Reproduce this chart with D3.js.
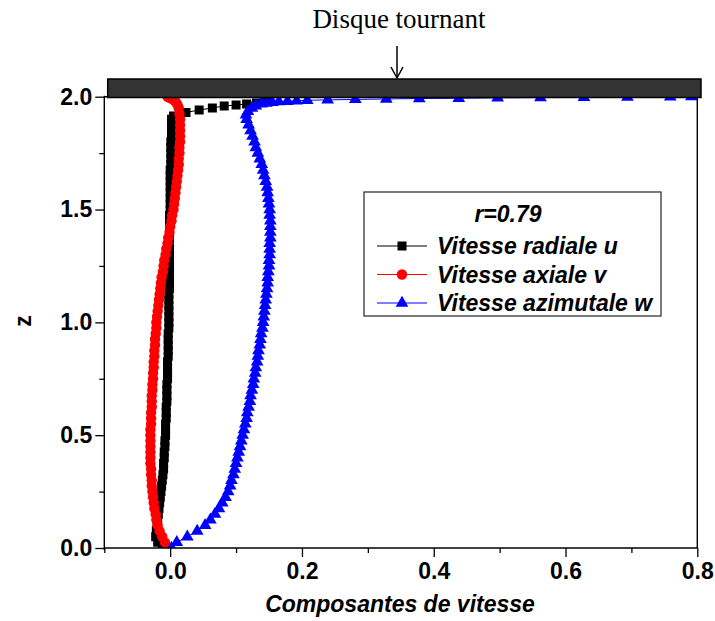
<!DOCTYPE html>
<html><head><meta charset="utf-8">
<script src="https://cdn.jsdelivr.net/npm/d3@7"></script>
<style>body{margin:0;background:#fff}svg{display:block}</style>
</head><body>
<svg id="c" width="715" height="621"></svg>
<script>
// ---- data ----
const zBody = [
  0,0.025,0.05,0.075,0.1,0.125,0.15,0.175,0.2,0.225,
  0.25,0.275,0.3,0.325,0.35,0.375,0.4,0.425,0.45,0.475,
  0.5,0.525,0.55,0.575,0.6,0.625,0.65,0.675,0.7,0.725,
  0.75,0.775,0.8,0.825,0.85,0.875,0.9,0.925,0.95,0.975,
  1.0,1.025,1.05,1.075,1.1,1.125,1.15,1.175,1.2,1.225,
  1.25,1.275,1.3,1.325,1.35,1.375,1.4,1.425,1.45,1.475,
  1.5,1.525,1.55,1.575,1.6,1.625,1.65,1.675,1.7,1.725,
  1.75,1.775,1.8,1.825,1.85,1.875,1.9];
const uBody = [
  -0.012,-0.019,-0.022,-0.021,-0.020,-0.019,-0.018,-0.017,-0.016,-0.015,
  -0.014,-0.013,-0.012,-0.011,-0.010,-0.010,-0.009,-0.009,-0.008,-0.008,
  -0.007,-0.007,-0.007,-0.006,-0.006,-0.006,-0.005,-0.005,-0.005,-0.005,
  -0.004,-0.004,-0.004,-0.004,-0.003,-0.003,-0.003,-0.003,-0.003,-0.002,
  -0.002,-0.002,-0.002,-0.002,-0.002,-0.002,-0.001,-0.001,-0.001,-0.001,
  -0.001,-0.001,-0.001,-0.001,-0.001,-0.001,-0.001,-0.001,-0.001,-0.001,
  0,0,0,0,0,0,0,0,0.001,0.001,
  0.001,0.001,0.001,0.002,0.002,0.002,0.002];
const vBody = [
  -0.002,-0.008,-0.012,-0.016,-0.019,-0.021,-0.022,-0.024,-0.025,-0.026,
  -0.027,-0.028,-0.028,-0.029,-0.029,-0.030,-0.030,-0.030,-0.030,-0.030,
  -0.030,-0.030,-0.029,-0.029,-0.029,-0.028,-0.028,-0.028,-0.027,-0.027,
  -0.026,-0.026,-0.025,-0.025,-0.024,-0.024,-0.023,-0.023,-0.022,-0.021,
  -0.021,-0.020,-0.019,-0.018,-0.017,-0.016,-0.015,-0.014,-0.013,-0.011,
  -0.010,-0.009,-0.007,-0.006,-0.004,-0.003,-0.001,0.000,0.002,0.003,
  0.005,0.006,0.007,0.008,0.009,0.010,0.011,0.012,0.013,0.013,
  0.014,0.014,0.015,0.015,0.015,0.015,0.015];
const wBody = [
  0.002,0.010,0.026,0.041,0.053,0.061,0.068,0.074,0.079,0.084,
  0.088,0.091,0.093,0.096,0.098,0.100,0.102,0.104,0.106,0.108,
  0.110,0.112,0.114,0.116,0.117,0.119,0.121,0.122,0.124,0.126,
  0.127,0.129,0.130,0.132,0.133,0.134,0.136,0.137,0.138,0.140,
  0.141,0.142,0.143,0.144,0.145,0.146,0.147,0.148,0.148,0.149,
  0.150,0.150,0.151,0.151,0.151,0.152,0.152,0.152,0.152,0.151,
  0.151,0.150,0.149,0.148,0.147,0.145,0.143,0.141,0.139,0.136,
  0.133,0.130,0.128,0.125,0.122,0.119,0.116];
// near the rotating disc (refined grid)
const zTopU = [1.915,1.93,1.941,1.95,1.959,1.963,1.968,1.972,1.977,1.981];
const uTop  = [0.005,0.024,0.044,0.064,0.082,0.100,0.116,0.131,0.143,0.151];
const zTopV = [1.925,1.95,1.965,1.975,1.982,1.988,1.993,1.997,2.0];
const vTop  = [0.014,0.013,0.011,0.009,0.007,0.004,0.001,-0.002,-0.004];
const zTopW = [1.92,1.935,1.95,1.96,1.968,1.972,1.975,1.978,1.98,1.982,1.984,1.986,1.988,1.99,1.992,1.993,1.995,1.996,1.997,1.998,1.999,2.0];
const wTop  = [0.115,0.118,0.124,0.130,0.138,0.146,0.155,0.165,0.178,0.192,0.208,0.239,0.281,0.328,0.378,0.438,0.497,0.562,0.628,0.694,0.759,0.791];

const xMajor = [0,0.2,0.4,0.6,0.8];
const xMinor = [-0.1,0.1,0.3,0.5,0.7];
const yMajor = [0,0.5,1.0,1.5,2.0];
const yMinor = [0.25,0.75,1.25,1.75];
const legendTitle = "r=0.79";
const seriesNames = ["Vitesse radiale u","Vitesse axiale v","Vitesse azimutale w"];
const seriesColors = ["#000000","#ff0000","#0000ff"];

// ---- chart ----
const svg = d3.select("#c");
const L=104.3, R=697.3, T=96.7, B=548;
const x = d3.scaleLinear().domain([-0.1,0.8]).range([L,R]);
const y = d3.scaleLinear().domain([0,2]).range([B,T]);
const SANS = "'Liberation Sans', Arial, Helvetica, sans-serif";

function build(zb, vb, zt, vt){
  const pts = zb.map((z,i)=>({x:vb[i], z}));
  zt.forEach((z,i)=>pts.push({x:vt[i], z}));
  return pts;
}
const series = [
  {pts: build(zBody,uBody,zTopU,uTop), sym: d3.symbolSquare, size: 81},
  {pts: build(zBody,vBody,zTopV,vTop), sym: d3.symbolCircle, size: 85},
  {pts: build(zBody,wBody,zTopW,wTop), sym: d3.symbolTriangle, size: 70}
];

svg.append("defs").append("clipPath").attr("id","clip")
  .append("rect").attr("x",L).attr("y",70).attr("width",R-L).attr("height",B-70);

const plot = svg.append("g").attr("clip-path","url(#clip)");
const line = d3.line().x(d=>x(d.x)).y(d=>y(d.z));
series.forEach((s,i)=>{
  plot.append("path").datum(s.pts).attr("d",line)
    .attr("fill","none").attr("stroke",seriesColors[i]).attr("stroke-width",1);
  plot.append("g").selectAll("path").data(s.pts).join("path")
    .attr("d",d3.symbol().type(s.sym).size(s.size))
    .attr("transform",d=>`translate(${x(d.x)},${y(d.z)})`)
    .attr("fill",seriesColors[i]);
});

// axes
svg.append("g").attr("transform",`translate(0,${B})`)
  .call(d3.axisBottom(x).tickValues(xMajor).tickSize(9).tickPadding(6).tickFormat(d3.format(".1f")));
svg.append("g").attr("transform",`translate(0,${B})`)
  .call(d3.axisBottom(x).tickValues(xMinor).tickSize(5).tickFormat(""));
svg.append("g").attr("transform",`translate(${L},0)`)
  .call(d3.axisLeft(y).tickValues(yMajor).tickSize(9).tickPadding(3).tickFormat(d3.format(".1f")));
svg.append("g").attr("transform",`translate(${L},0)`)
  .call(d3.axisLeft(y).tickValues(yMinor).tickSize(5).tickFormat(""));
svg.selectAll(".domain").remove();
svg.selectAll(".tick line").attr("stroke","#000").attr("stroke-width",1.3);
svg.selectAll(".tick text").attr("font-family",SANS).attr("font-weight","bold")
  .attr("font-size",23).attr("fill","#000");

// frame
const fr = svg.append("g").attr("stroke","#000").attr("stroke-width",1.4);
fr.append("line").attr("x1",L).attr("x2",L).attr("y1",T-1).attr("y2",B+2);
fr.append("line").attr("x1",L).attr("x2",R).attr("y1",B).attr("y2",B);
fr.append("line").attr("x1",R).attr("x2",R).attr("y1",T).attr("y2",B);
fr.append("line").attr("x1",L).attr("x2",R).attr("y1",T).attr("y2",T);

// rotating disc
svg.append("rect").attr("x",107.7).attr("y",79).attr("width",593.3).attr("height",18.5)
  .attr("fill","#333").attr("stroke","#000").attr("stroke-width",1.5);
svg.append("text").attr("x",399).attr("y",28).attr("text-anchor","middle")
  .attr("font-family","'Liberation Serif','Times New Roman',serif").attr("font-size",27)
  .text("Disque tournant");
svg.append("line").attr("x1",397).attr("x2",397).attr("y1",46).attr("y2",78)
  .attr("stroke","#000").attr("stroke-width",1.5);
svg.append("path").attr("d","M391,67 L397,78 L403,67").attr("fill","none")
  .attr("stroke","#000").attr("stroke-width",1.5);

// axis titles
svg.append("text").attr("x",400).attr("y",612).attr("text-anchor","middle")
  .attr("font-family",SANS).attr("font-weight","bold").attr("font-style","italic")
  .attr("font-size",23).text("Composantes de vitesse");
svg.append("text").attr("transform","translate(31,321) rotate(-90)").attr("text-anchor","middle")
  .attr("font-family",SANS).attr("font-weight","bold").attr("font-size",23).text("z");

// legend
const lg = svg.append("g");
lg.append("rect").attr("x",364).attr("y",192).attr("width",297).attr("height",124)
  .attr("fill","#fff").attr("stroke","#222").attr("stroke-width",1.2);
lg.append("text").attr("x",508).attr("y",222).attr("text-anchor","middle")
  .attr("font-family",SANS).attr("font-weight","bold").attr("font-style","italic")
  .attr("font-size",23).text(legendTitle);
const rowY = [246,274.5,303];
seriesNames.forEach((n,i)=>{
  lg.append("line").attr("x1",377).attr("x2",427).attr("y1",rowY[i]).attr("y2",rowY[i])
    .attr("stroke",seriesColors[i]).attr("stroke-width",1.2);
  lg.append("path").attr("d",d3.symbol().type(series[i].sym).size(series[i].size))
    .attr("transform",`translate(402,${rowY[i]})`).attr("fill",seriesColors[i]);
  lg.append("text").attr("x",437).attr("y",rowY[i]+8).attr("font-family",SANS)
    .attr("font-weight","bold").attr("font-style","italic").attr("font-size",23).text(n);
});
</script>
</body></html>
